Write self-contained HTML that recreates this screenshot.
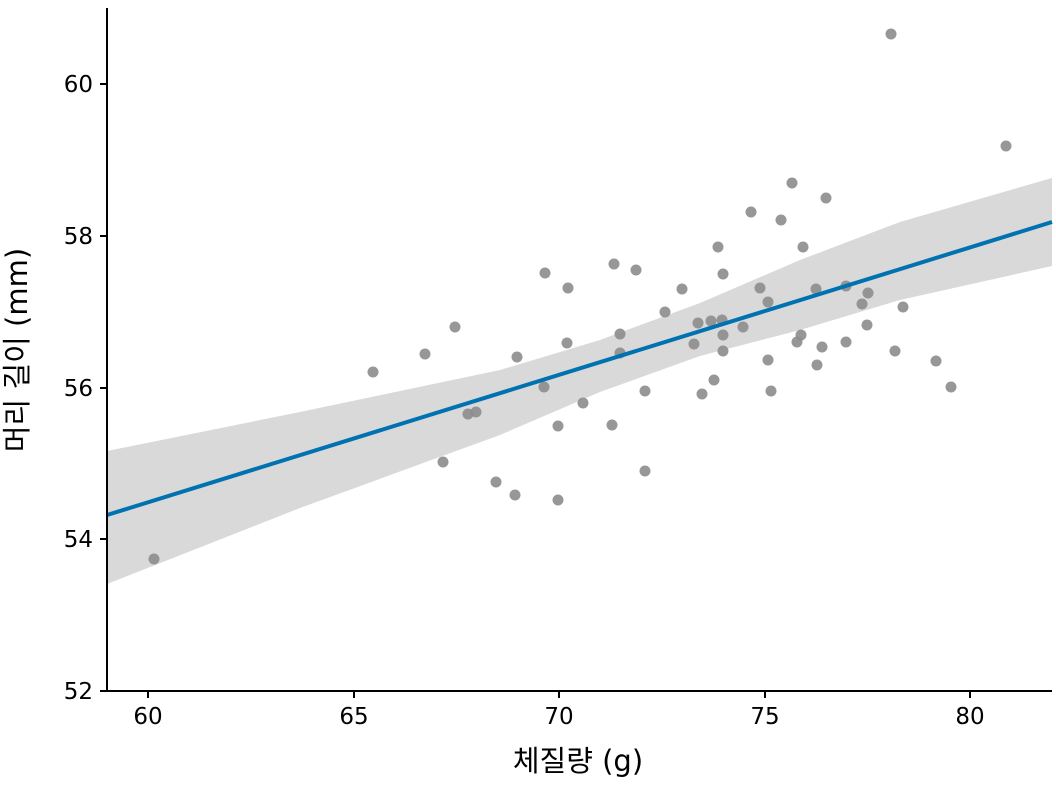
<!DOCTYPE html>
<html><head><meta charset="utf-8"><style>body{margin:0;background:#fff}svg{display:block}text{font-family:"DejaVu Sans","Liberation Sans","Noto Sans CJK KR",sans-serif;font-size:23px;fill:#000}</style></head>
<body>
<svg width="1056" height="792" viewBox="0 0 1056 792">
<path d="M107,451 L300,412 L500,370 L600,340 L700,303 L800,260 L900,222 L1052,178 L1052,266 L900,300 L800,330 L700,356 L600,392 L500,435 L300,508 L107,584 Z" fill="#d9d9d9"/>
<g fill="#8c8c8c" fill-opacity="0.9">
<circle cx="154" cy="559" r="5.5"/><circle cx="373" cy="372" r="5.5"/><circle cx="425" cy="354" r="5.5"/><circle cx="455" cy="327" r="5.5"/><circle cx="443" cy="462" r="5.5"/><circle cx="468" cy="414" r="5.5"/><circle cx="476" cy="412" r="5.5"/><circle cx="496" cy="482" r="5.5"/><circle cx="515" cy="495" r="5.5"/><circle cx="517" cy="357" r="5.5"/><circle cx="545" cy="273" r="5.5"/><circle cx="544" cy="387" r="5.5"/><circle cx="558" cy="426" r="5.5"/><circle cx="558" cy="500" r="5.5"/><circle cx="567" cy="343" r="5.5"/><circle cx="568" cy="288" r="5.5"/><circle cx="583" cy="403" r="5.5"/><circle cx="612" cy="425" r="5.5"/><circle cx="614" cy="264" r="5.5"/><circle cx="620" cy="334" r="5.5"/><circle cx="620" cy="353" r="5.5"/><circle cx="636" cy="270" r="5.5"/><circle cx="645" cy="391" r="5.5"/><circle cx="645" cy="471" r="5.5"/><circle cx="665" cy="312" r="5.5"/><circle cx="682" cy="289" r="5.5"/><circle cx="694" cy="344" r="5.5"/><circle cx="698" cy="323" r="5.5"/><circle cx="702" cy="394" r="5.5"/><circle cx="711" cy="321" r="5.5"/><circle cx="714" cy="380" r="5.5"/><circle cx="718" cy="247" r="5.5"/><circle cx="723" cy="274" r="5.5"/><circle cx="722" cy="320" r="5.5"/><circle cx="723" cy="335" r="5.5"/><circle cx="723" cy="351" r="5.5"/><circle cx="743" cy="327" r="5.5"/><circle cx="751" cy="212" r="5.5"/><circle cx="760" cy="288" r="5.5"/><circle cx="768" cy="302" r="5.5"/><circle cx="768" cy="360" r="5.5"/><circle cx="771" cy="391" r="5.5"/><circle cx="781" cy="220" r="5.5"/><circle cx="792" cy="183" r="5.5"/><circle cx="797" cy="342" r="5.5"/><circle cx="801" cy="335" r="5.5"/><circle cx="803" cy="247" r="5.5"/><circle cx="816" cy="289" r="5.5"/><circle cx="817" cy="365" r="5.5"/><circle cx="822" cy="347" r="5.5"/><circle cx="826" cy="198" r="5.5"/><circle cx="846" cy="286" r="5.5"/><circle cx="846" cy="342" r="5.5"/><circle cx="862" cy="304" r="5.5"/><circle cx="867" cy="325" r="5.5"/><circle cx="868" cy="293" r="5.5"/><circle cx="891" cy="34" r="5.5"/><circle cx="895" cy="351" r="5.5"/><circle cx="903" cy="307" r="5.5"/><circle cx="936" cy="361" r="5.5"/><circle cx="951" cy="387" r="5.5"/><circle cx="1006" cy="146" r="5.5"/>
</g>
<line x1="107" y1="515" x2="1052" y2="222" stroke="#0072b2" stroke-width="4"/>
<g stroke="#000" stroke-width="2">
<line x1="107" y1="8" x2="107" y2="691"/><line x1="106" y1="691" x2="1052" y2="691"/>
<line x1="100" y1="84" x2="107" y2="84"/><line x1="100" y1="236" x2="107" y2="236"/><line x1="100" y1="388" x2="107" y2="388"/><line x1="100" y1="539" x2="107" y2="539"/><line x1="100" y1="691" x2="107" y2="691"/>
<line x1="148" y1="691" x2="148" y2="698"/><line x1="354" y1="691" x2="354" y2="698"/><line x1="559" y1="691" x2="559" y2="698"/><line x1="765" y1="691" x2="765" y2="698"/><line x1="970" y1="691" x2="970" y2="698"/>
</g>
<g text-anchor="end"><text x="93" y="92">60</text><text x="93" y="244">58</text><text x="93" y="396">56</text><text x="93" y="547">54</text><text x="93" y="699">52</text></g>
<g text-anchor="middle"><text x="148" y="724">60</text><text x="354" y="724">65</text><text x="559" y="724">70</text><text x="765" y="724">75</text><text x="970" y="724">80</text>
<text x="578" y="771" style="font-size:29px">체질량 (g)</text>
<text transform="translate(27,350) rotate(-90)" style="font-size:29px">머리 길이 (mm)</text></g>
</svg>
</body></html>
